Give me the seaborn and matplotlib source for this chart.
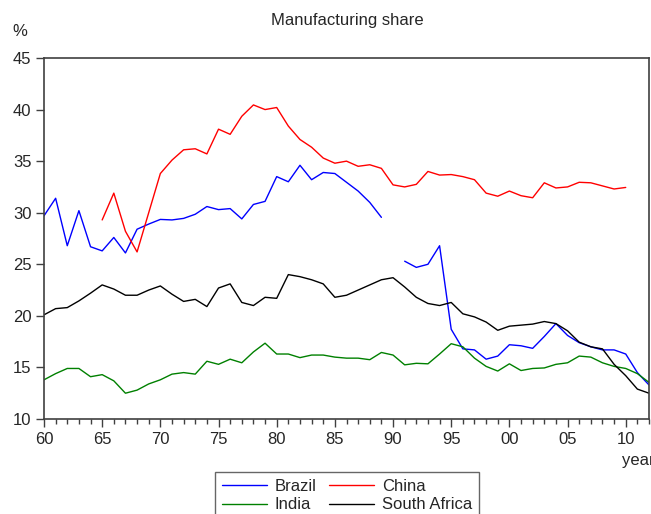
import numpy as np
import pandas as pd
import matplotlib
matplotlib.use("Agg")
import matplotlib.pyplot as plt
from matplotlib.lines import Line2D
from matplotlib.ticker import MultipleLocator
import seaborn as sns

NaN = np.nan

years = list(range(1960, 2013))

brazil = [29.7, 31.4, 26.8, 30.2, 26.7, 26.3, 27.6, 26.1, 28.4, 28.9,
          29.35, 29.3, 29.45, 29.85, 30.6, 30.3, 30.4, 29.4, 30.8, 31.1,
          33.5, 33.0, 34.6, 33.2, 33.9, 33.8, 32.95, 32.1, 31.0, 29.55,
          NaN, 25.3, 24.7, 25.0, 26.8, 18.7, 16.8, 16.7, 15.8, 16.1,
          17.2, 17.1, 16.85, 18.0, 19.25, 18.1, 17.4, 17.0, 16.7, 16.7,
          16.3, 14.5, 13.3]

china = [NaN, NaN, NaN, NaN, NaN, 29.3, 31.9, 28.2, 26.2, 30.0,
         33.8, 35.1, 36.1, 36.2, 35.7, 38.1, 37.6, 39.35, 40.45, 40.0,
         40.2, 38.4, 37.1, 36.35, 35.3, 34.8, 35.0, 34.5, 34.65, 34.3,
         32.7, 32.5, 32.75, 34.0, 33.65, 33.7, 33.5, 33.2, 31.9, 31.6,
         32.1, 31.65, 31.45, 32.9, 32.4, 32.5, 32.95, 32.9, 32.6, 32.3,
         32.45, NaN, NaN]

india = [13.8, 14.4, 14.9, 14.9, 14.1, 14.3, 13.7, 12.5, 12.8, 13.4,
         13.8, 14.35, 14.5, 14.35, 15.6, 15.3, 15.8, 15.45, 16.5, 17.35,
         16.3, 16.3, 15.95, 16.2, 16.2, 16.0, 15.9, 15.9, 15.75, 16.45,
         16.2, 15.25, 15.4, 15.35, 16.3, 17.3, 17.0, 15.9, 15.1, 14.65,
         15.35, 14.7, 14.9, 14.95, 15.3, 15.45, 16.1, 16.0, 15.45, 15.1,
         14.9, 14.4, 13.55]

south_africa = [20.1, 20.7, 20.8, 21.45, 22.2, 23.0, 22.6, 22.0, 22.0, 22.5,
                22.9, 22.1, 21.4, 21.6, 20.9, 22.7, 23.1, 21.3, 21.0, 21.8,
                21.7, 24.0, 23.8, 23.5, 23.1, 21.8, 22.0, 22.5, 23.0, 23.5,
                23.7, 22.8, 21.8, 21.2, 21.0, 21.3, 20.2, 19.9, 19.4, 18.6,
                19.0, 19.1, 19.2, 19.45, 19.25, 18.55, 17.45, 17.0, 16.8, 15.3,
                14.2, 12.9, 12.5]

countries = ["Brazil", "China", "India", "South Africa"]
colors = {"Brazil": "#0000ff", "China": "#ff0000",
          "India": "#008000", "South Africa": "#000000"}
tick_years = list(range(1960, 2011, 5))
tick_labels = ["60", "65", "70", "75", "80", "85", "90", "95", "00", "05", "10"]

# long table, with a segment id so gaps in a series stay gaps
frames = []
for name, vals in zip(countries, [brazil, china, india, south_africa]):
    d = pd.DataFrame({"year": years, "share": vals, "country": name})
    d["segment"] = d["share"].isna().cumsum()
    frames.append(d.dropna())
df = pd.concat(frames, ignore_index=True)
df["unit"] = df["country"] + "_" + df["segment"].astype(str)

sns.set_style("ticks")
plt.rcParams["font.family"] = ["Liberation Sans", "DejaVu Sans"]

fig = plt.figure(figsize=(6.51, 5.14), dpi=100)
ax = fig.add_axes([44 / 651, 1 - 419 / 514, 605 / 651, 361 / 514])

sns.lineplot(data=df, x="year", y="share", hue="country", units="unit",
             estimator=None, palette=colors, hue_order=countries,
             linewidth=1, legend=False, ax=ax)

ax.set_xlim(1960, 2012)
ax.set_ylim(10, 45)
ax.set_xticks(tick_years)
ax.set_xticklabels(tick_labels)
ax.xaxis.set_minor_locator(MultipleLocator(1))
ax.set_yticks(range(10, 46, 5))
ax.set_xlabel("")
ax.set_ylabel("")

for s in ax.spines.values():
    s.set_visible(True)
    s.set_color("#404040")
    s.set_linewidth(1.2)
ax.tick_params(axis="both", which="major", labelsize=12, color="#404040",
               direction="out", length=6, width=1, pad=3)
ax.tick_params(axis="x", which="minor", direction="out", length=3.5,
               width=1, color="#404040")
ax.tick_params(top=False, right=False)

fig.text(347 / 651, 1 - 20 / 514, "Manufacturing share", ha="center",
         va="center", fontsize=12)
fig.text(20 / 651, 1 - 32 / 514, "%", ha="center", va="center", fontsize=12)
fig.text(622 / 651, 1 - 460 / 514, "year", ha="left", va="center", fontsize=12)

# legend fills by column, so order gives rows Brazil/China, India/South Africa
leg_order = ["Brazil", "India", "China", "South Africa"]
handles = [Line2D([], [], color=colors[c], lw=1) for c in leg_order]
leg = fig.legend(handles, leg_order, loc="upper left", ncol=2,
                 bbox_to_anchor=(215 / 651, 1 - 472 / 514), fontsize=12,
                 frameon=True, fancybox=False, handlelength=2.7,
                 handletextpad=0.45, columnspacing=0.8, labelspacing=0.22,
                 borderpad=0.4, borderaxespad=0)
leg.get_frame().set_edgecolor("#404040")
leg.get_frame().set_linewidth(1)

fig.savefig("out.png", dpi=100)
